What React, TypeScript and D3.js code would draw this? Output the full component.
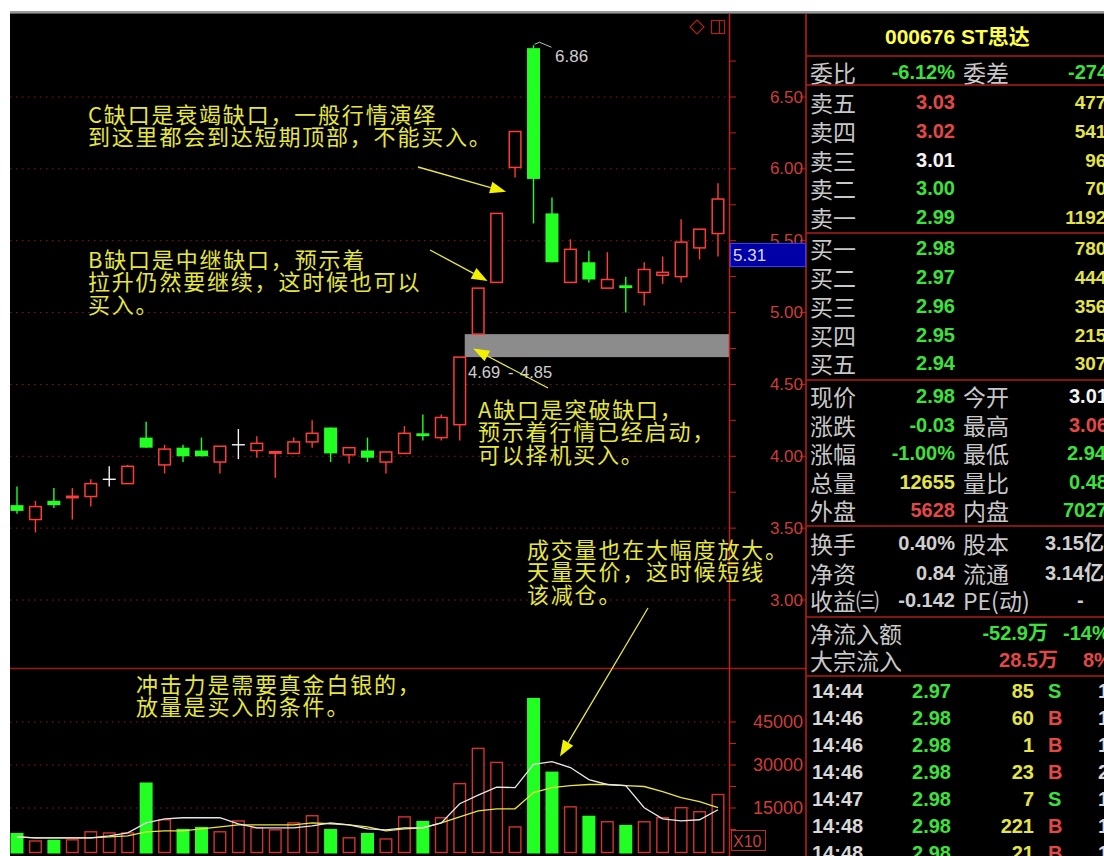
import React from 'react';
import * as d3 from 'd3';

// ---- K-line data ----
const opens  = [3.66,3.56,3.69,3.71,3.72,3.84,3.81,4.13,3.94,4.06,4.04,3.96,4.08,4.04,4.02,4.02,4.10,4.20,4.01,4.04,3.96,4.02,4.16,4.13,4.22,4.85,5.21,6.01,6.84,5.69,5.21,5.35,5.17,5.19,5.14,5.26,5.25,5.45,5.55];
const highs  = [3.79,3.69,3.78,3.78,3.84,3.93,3.94,4.24,4.08,4.08,4.13,4.07,4.19,4.14,4.03,4.13,4.25,4.20,4.06,4.13,4.03,4.21,4.29,4.29,4.69,5.17,5.69,6.26,6.86,5.80,5.51,5.43,5.42,5.25,5.35,5.39,5.65,5.58,5.90];
const lows   = [3.60,3.47,3.64,3.56,3.65,3.79,3.81,4.06,3.88,3.96,4.00,3.88,3.98,3.99,3.85,4.02,4.06,3.96,3.95,3.96,3.88,4.02,4.11,4.11,4.11,4.85,5.21,5.94,5.62,5.35,5.21,5.21,5.17,5.00,5.05,5.20,5.21,5.37,5.39];
const closes = [3.62,3.65,3.66,3.72,3.81,3.84,3.93,4.06,4.05,4.00,4.00,4.07,4.08,4.09,4.03,4.10,4.16,4.02,4.06,3.99,4.03,4.16,4.14,4.27,4.69,5.17,5.69,6.26,5.93,5.35,5.44,5.23,5.23,5.17,5.30,5.28,5.49,5.58,5.79];
const volumes = [6300,3500,3900,3900,6700,6300,6300,23900,10900,7700,8400,6700,10500,8100,7400,9800,12300,7700,4600,6300,4200,11900,10500,11600,23500,35800,30900,8400,53400,27700,15400,12300,10200,9100,10200,11600,15100,13700,19700];
const volMa5  = [4900,4600,4600,4600,4600,5300,6300,9800,11200,11600,11600,11600,9500,8100,8100,8100,8800,9800,9100,7700,7400,8100,8100,9800,16500,19500,22300,22100,30200,31200,29100,24900,23200,22800,15100,11200,10500,10900,14400];
const volMa10 = [4900,4600,4600,4600,4600,4900,5300,6700,7000,7000,7700,8400,9100,9100,9100,9100,9800,9500,9100,8400,7000,7700,8100,9800,11900,14000,14700,14700,20400,22100,22800,23200,23200,22800,22500,20700,18600,17200,15100];

const priceTicks = [3.0, 3.5, 4.0, 4.5, 5.0, 5.5, 6.0, 6.5];
const volTicks = [15000, 30000, 45000];
const gapLow = 4.69;
const gapHigh = 4.85;
const peakLabel = '6.86';
const cursorPrice = '5.31';

// ---- Quote panel data ----
const stockTitle = '000676 ST思达';
const bookLabels = ['卖五','卖四','卖三','卖二','卖一','买一','买二','买三','买四','买五'];
const bookPrices = ['3.03','3.02','3.01','3.00','2.99','2.98','2.97','2.96','2.95','2.94'];
const bookPriceColors = ['red','red','white','green','green','green','green','green','green','green'];
const bookVolumes = ['4772','5410','963','705','11925','7802','4441','3561','2155','3070'];
const infoLabelsA = ['现价','涨跌','涨幅','总量','外盘','换手','净资','收益㈢'];
const infoValuesA = ['2.98','-0.03','-1.00%','12655','5628','0.40%','0.84','-0.142'];
const infoColorsA = ['green','green','green','yellow','red','gray','gray','gray'];
const infoLabelsB = ['今开','最高','最低','量比','内盘','股本','流通','PE(动)'];
const infoValuesB = ['3.01','3.06','2.94','0.48','7027','3.15亿','3.14亿','-'];
const infoColorsB = ['white','red','green','green','green','gray','gray','gray'];
const flowLabels = ['净流入额','大宗流入'];
const flowValues = ['-52.9万','28.5万'];
const flowPcts = ['-14%','8%'];
const flowColors = ['green','red'];
const tradeTimes = ['14:44','14:46','14:46','14:46','14:47','14:48','14:48'];
const tradePrices = ['2.97','2.98','2.98','2.98','2.98','2.98','2.98'];
const tradeVols = ['85','60','1','23','7','221','21'];
const tradeSides = ['S','B','B','B','S','B','B'];
const tradeCounts = ['1','1','1','2','1','1','1'];

const COL: Record<string, string> = {
  red: '#e34848', green: '#3ee03e', white: '#f4f4f4', yellow: '#e4e44a', gray: '#cfcfcf',
};

const CJK = '"Noto Sans CJK SC", "Noto Sans", sans-serif';
const NUM = '"Liberation Sans", Arial, sans-serif';
const MIX = '"Liberation Sans", "Noto Sans CJK SC", sans-serif';

export default function App() {
  const W = 1104, H = 856;
  const n = closes.length;
  const x = d3.scaleLinear().domain([0, n - 1]).range([17, 718]);
  const y = d3.scaleLinear().domain([3, 6.5]).range([600, 97]);
  const yv = d3.scaleLinear().domain([0, 45000]).range([851, 722]);
  const bw = 13;
  const RED = '#ff3b3b';
  const GREEN = '#22ff22';
  const AX = '#c41e1e';
  const GRID = '#8a1a1a';
  const YEL = '#e8e84a';
  const ANN = '#e6e640';

  const minorPrice = d3.range(3.0, 6.76, 0.25);
  const minorVol = d3.range(7500, 45001, 7500);

  const ma5Line = d3.line<number>().x((_, i) => x(i)).y(v => yv(v))(volMa5) || '';
  const ma10Line = d3.line<number>().x((_, i) => x(i)).y(v => yv(v))(volMa10) || '';

  const arrow = (x1: number, y1: number, x2: number, y2: number, key: string) => {
    const ang = Math.atan2(y2 - y1, x2 - x1);
    const L = 16, Wd = 6;
    const bx = x2 - L * Math.cos(ang), by = y2 - L * Math.sin(ang);
    const px = -Math.sin(ang) * Wd, py = Math.cos(ang) * Wd;
    return (
      <g key={key}>
        <line x1={x1} y1={y1} x2={bx} y2={by} stroke={YEL} strokeWidth={1.3} />
        <polygon points={`${x2},${y2} ${bx + px},${by + py} ${bx - px},${by - py}`} fill="#f0f000" />
      </g>
    );
  };

  const annText = (lines: string[], x0: number, yc0: number, key: string) => (
    <g key={key}>
      {lines.map((t, i) => (
        <text key={i} x={x0} y={yc0 + i * 22.3} fill={ANN} fontFamily={CJK} fontSize={22}
          letterSpacing={1.8} dominantBaseline="central" style={{ whiteSpace: 'pre' }}>{t}</text>
      ))}
    </g>
  );

  const bookRowY = [102, 131, 160, 188, 217, 248, 277, 306, 335, 363];
  const infoRowY = [396, 425, 453, 482, 510, 543, 573, 600];
  const flowRowY = [633, 660];
  const tradeRowY = [691, 718, 745, 772, 799, 826, 853];

  return (
    <svg width={W} height={H} style={{ position: 'absolute', left: 0, top: 0, display: 'block' }}>
      <defs>
        <clipPath id="main"><rect x={10} y={14} width={719} height={654} /></clipPath>
        <clipPath id="vol"><rect x={10} y={669} width={719} height={187} /></clipPath>
      </defs>
      <rect x={0} y={0} width={W} height={H} fill="#ffffff" />
      <rect x={10} y={11} width={W - 10} height={2} fill="#9a9a9a" />
      <rect x={10} y={13} width={W - 10} height={1} fill="#5a5a5a" />
      <rect x={10} y={14} width={W - 10} height={H - 14} fill="#000" />

      {/* grid lines */}
      {priceTicks.map(p => (
        <line key={'g' + p} x1={10} x2={729} y1={y(p)} y2={y(p)} stroke={GRID} strokeWidth={1} strokeDasharray="1.5 4.5" />
      ))}
      {volTicks.map(v => (
        <line key={'gv' + v} x1={10} x2={729} y1={yv(v)} y2={yv(v)} stroke={GRID} strokeWidth={1} strokeDasharray="1.5 4.5" />
      ))}

      {/* gap band */}
      <rect x={x(24) + 5} y={y(gapHigh)} width={729 - x(24) - 5} height={y(gapLow) - y(gapHigh)} fill="#8c8c8c" />

      {/* candles */}
      <g clipPath="url(#main)">
        {closes.map((c, i) => {
          const o = opens[i], h = highs[i], l = lows[i];
          const cx = x(i);
          const top = y(Math.max(o, c)), bot = y(Math.min(o, c));
          if (Math.abs(c - o) < 0.001) {
            return (
              <g key={i} stroke="#f4f4f4" strokeWidth={1.4}>
                <line x1={cx} x2={cx} y1={y(h)} y2={y(l)} />
                <line x1={cx - bw / 2} x2={cx + bw / 2} y1={y(c)} y2={y(c)} />
              </g>
            );
          }
          const up = c > o;
          const col = up ? RED : GREEN;
          const hgt = bot - top;
          return (
            <g key={i}>
              <line x1={cx} x2={cx} y1={y(h)} y2={y(l)} stroke={col} strokeWidth={1.4} />
              {hgt < 2.5 ? (
                <rect x={cx - bw / 2} y={top - 1} width={bw} height={Math.max(hgt, 1) + 1.5} fill={col} />
              ) : up ? (
                <rect x={cx - bw / 2 + 0.7} y={top} width={bw - 1.4} height={hgt} fill="#000" stroke={col} strokeWidth={1.5} />
              ) : (
                <rect x={cx - bw / 2} y={top} width={bw} height={hgt} fill={col} />
              )}
            </g>
          );
        })}
      </g>

      {/* peak label */}
      <path d={`M${x(28) + 1},${y(6.86) - 1} l5,-2 l12,5`} stroke="#bdbdbd" strokeWidth={1} fill="none" />
      <text x={555} y={56} fill="#cfcfcf" fontFamily={NUM} fontSize={17} dominantBaseline="central">{peakLabel}</text>

      {/* gap label */}
      <text x={468} y={372} fill="#cfcfcf" fontFamily={NUM} fontSize={16.5} dominantBaseline="central">{gapLow.toFixed(2)}</text>
      <text x={508} y={372} fill="#cfcfcf" fontFamily={NUM} fontSize={16.5} dominantBaseline="central">-</text>
      <text x={520} y={372} fill="#cfcfcf" fontFamily={NUM} fontSize={16.5} dominantBaseline="central">{gapHigh.toFixed(2)}</text>

      {/* panel separator */}
      <line x1={10} x2={806} y1={668.5} y2={668.5} stroke="#a01818" strokeWidth={1.5} />

      {/* volume bars */}
      <g clipPath="url(#vol)">
        {volumes.map((v, i) => {
          const up = closes[i] >= opens[i];
          const cx = x(i);
          return up ? (
            <rect key={i} x={cx - bw / 2 + 0.7} y={yv(v)} width={bw - 1.4} height={yv(0) - yv(v) + 1.5} fill="#000" stroke="#d23232" strokeWidth={1.4} />
          ) : (
            <rect key={i} x={cx - bw / 2} y={yv(v)} width={bw} height={yv(0) - yv(v) + 2.5} fill={GREEN} />
          );
        })}
        <path d={ma10Line} fill="none" stroke="#e8e640" strokeWidth={1.3} />
        <path d={ma5Line} fill="none" stroke="#e8e8e8" strokeWidth={1.3} />
      </g>

      {/* axes */}
      <line x1={729.5} x2={729.5} y1={14} y2={H} stroke={AX} strokeWidth={1.5} />
      <line x1={806} x2={806} y1={14} y2={H} stroke={AX} strokeWidth={1.5} />
      {minorPrice.map(p => (
        <line key={'t' + p} x1={730} x2={736} y1={y(p)} y2={y(p)} stroke={AX} strokeWidth={1} />
      ))}
      {priceTicks.map(p => (
        <line key={'tr' + p} x1={800} x2={806} y1={y(p)} y2={y(p)} stroke={AX} strokeWidth={1} />
      ))}
      {minorVol.map(v => (
        <line key={'tv' + v} x1={730} x2={736} y1={yv(v)} y2={yv(v)} stroke={AX} strokeWidth={1} />
      ))}
      {priceTicks.map(p => (
        <text key={'l' + p} x={803} y={y(p)} textAnchor="end" fill="#cf3c3c" fontFamily={NUM} fontSize={17} dominantBaseline="central">{p.toFixed(2)}</text>
      ))}
      {volTicks.map(v => (
        <text key={'lv' + v} x={803} y={yv(v)} textAnchor="end" fill="#cf3c3c" fontFamily={NUM} fontSize={18} dominantBaseline="central">{v}</text>
      ))}

      {/* cursor label */}
      <rect x={730.5} y={243.5} width={75} height={23} fill="#0000a6" stroke="#3a3aff" strokeWidth={1} />
      <text x={733} y={255} fill="#d8d8ff" fontFamily={NUM} fontSize={17} dominantBaseline="central">{cursorPrice}</text>

      {/* X10 box */}
      <rect x={731.5} y={830.5} width={34} height={20} fill="none" stroke="#b03030" strokeWidth={1} />
      <text x={733} y={841} fill="#c84040" fontFamily={NUM} fontSize={16} dominantBaseline="central">X10</text>

      {/* top icons */}
      <path d="M697,20 L704,27 L697,34 L690,27 Z" fill="none" stroke="#b02020" strokeWidth={1.2} />
      <rect x={711.5} y={20.5} width={13} height={13} fill="none" stroke="#b02020" strokeWidth={1.2} />
      <line x1={719.5} x2={719.5} y1={21} y2={33} stroke="#b02020" strokeWidth={1.2} />

      {/* annotations */}
      {annText(['C缺口是衰竭缺口，一般行情演绎', '到这里都会到达短期顶部，不能买入。'], 88, 113, 'c')}
      {annText(['B缺口是中继缺口，预示着', '拉升仍然要继续，这时候也可以', '买入。'], 88, 258, 'b')}
      {annText(['A缺口是突破缺口，', '预示着行情已经启动，', '可以择机买入。'], 478, 408, 'a')}
      {annText(['成交量也在大幅度放大。', '天量天价，这时候短线', '该减仓。'], 527, 548, 'v')}
      {annText(['冲击力是需要真金白银的，', '放量是买入的条件。'], 136, 683, 'k')}
      {arrow(418, 167, x(27) - 9, y(5.84), 'ac')}
      {arrow(430, 250, x(26) - 9, y(5.22), 'ab')}
      {arrow(548, 388, x(25) - 5, y(4.75), 'aa')}
      {arrow(648, 608, x(29) + 8, yv(33000), 'av')}

      {/* quote panel */}
      <g>
        {[56, 85, 233, 380, 526, 617, 676].map(yy => (
          <line key={'s' + yy} x1={806} x2={W} y1={yy} y2={yy} stroke="#b01c1c" strokeWidth={1.5} />
        ))}
        <text x={885} y={36} fill="#ffff48" fontFamily={MIX} fontWeight="bold" fontSize={21} dominantBaseline="central">{stockTitle}</text>

        <text x={810} y={72} fill="#c8c8c8" fontFamily={CJK} fontSize={23} dominantBaseline="central">委比</text>
        <text x={955} y={72} textAnchor="end" fill={COL.green} fontFamily={NUM} fontWeight="bold" fontSize={20} dominantBaseline="central">-6.12%</text>
        <text x={963} y={72} fill="#c8c8c8" fontFamily={CJK} fontSize={23} dominantBaseline="central">委差</text>
        <text x={1068} y={72} fill={COL.green} fontFamily={NUM} fontWeight="bold" fontSize={20} dominantBaseline="central">-2742</text>

        {bookLabels.map((lab, i) => (
          <g key={'bk' + i}>
            <text x={810} y={bookRowY[i]} fill="#c8c8c8" fontFamily={CJK} fontSize={23} dominantBaseline="central">{lab}</text>
            <text x={955} y={bookRowY[i]} textAnchor="end" fill={COL[bookPriceColors[i]]} fontFamily={NUM} fontWeight="bold" fontSize={20} dominantBaseline="central">{bookPrices[i]}</text>
            <text x={1117} y={bookRowY[i]} textAnchor="end" fill={COL.yellow} fontFamily={NUM} fontWeight="bold" fontSize={19} dominantBaseline="central">{bookVolumes[i]}</text>
          </g>
        ))}

        {infoLabelsA.map((lab, i) => (
          <g key={'in' + i}>
            <text x={810} y={infoRowY[i]} fill="#c8c8c8" fontFamily={CJK} fontSize={23} dominantBaseline="central">{lab}</text>
            <text x={955} y={infoRowY[i]} textAnchor="end" fill={COL[infoColorsA[i]]} fontFamily={NUM} fontWeight="bold" fontSize={20} dominantBaseline="central">{infoValuesA[i]}</text>
            <text x={963} y={infoRowY[i]} fill="#c8c8c8" fontFamily={CJK} fontSize={23} dominantBaseline="central">{infoLabelsB[i]}</text>
            <text x={i === 7 ? 1077 : i >= 5 ? 1045 : (i === 4 ? 1063 : (i === 2 ? 1067 : 1069))} y={infoRowY[i]} fill={COL[infoColorsB[i]]} fontFamily={i >= 5 && i < 7 ? MIX : NUM} fontWeight="bold" fontSize={20} dominantBaseline="central">{infoValuesB[i]}</text>
          </g>
        ))}

        {flowLabels.map((lab, i) => (
          <g key={'fl' + i}>
            <text x={810} y={flowRowY[i]} fill="#c8c8c8" fontFamily={CJK} fontSize={23} dominantBaseline="central">{lab}</text>
            <text x={i === 0 ? 1048 : 1058} y={flowRowY[i]} textAnchor="end" fill={COL[flowColors[i]]} fontFamily={MIX} fontWeight="bold" fontSize={20} dominantBaseline="central">{flowValues[i]}</text>
            <text x={i === 0 ? 1063 : 1083} y={flowRowY[i]} fill={COL[flowColors[i]]} fontFamily={NUM} fontWeight="bold" fontSize={20} dominantBaseline="central">{flowPcts[i]}</text>
          </g>
        ))}

        {tradeTimes.map((t, i) => (
          <g key={'tr' + i}>
            <text x={812} y={tradeRowY[i]} fill="#d8d8d8" fontFamily={NUM} fontWeight="bold" fontSize={20} dominantBaseline="central">{t}</text>
            <text x={951} y={tradeRowY[i]} textAnchor="end" fill={COL.green} fontFamily={NUM} fontWeight="bold" fontSize={20} dominantBaseline="central">{tradePrices[i]}</text>
            <text x={1034} y={tradeRowY[i]} textAnchor="end" fill={COL.yellow} fontFamily={NUM} fontWeight="bold" fontSize={20} dominantBaseline="central">{tradeVols[i]}</text>
            <text x={1048} y={tradeRowY[i]} fill={tradeSides[i] === 'B' ? COL.red : COL.green} fontFamily={NUM} fontWeight="bold" fontSize={20} dominantBaseline="central">{tradeSides[i]}</text>
            <text x={1098} y={tradeRowY[i]} fill="#d8d8d8" fontFamily={NUM} fontWeight="bold" fontSize={20} dominantBaseline="central">{tradeCounts[i]}</text>
          </g>
        ))}
      </g>
    </svg>
  );
}
